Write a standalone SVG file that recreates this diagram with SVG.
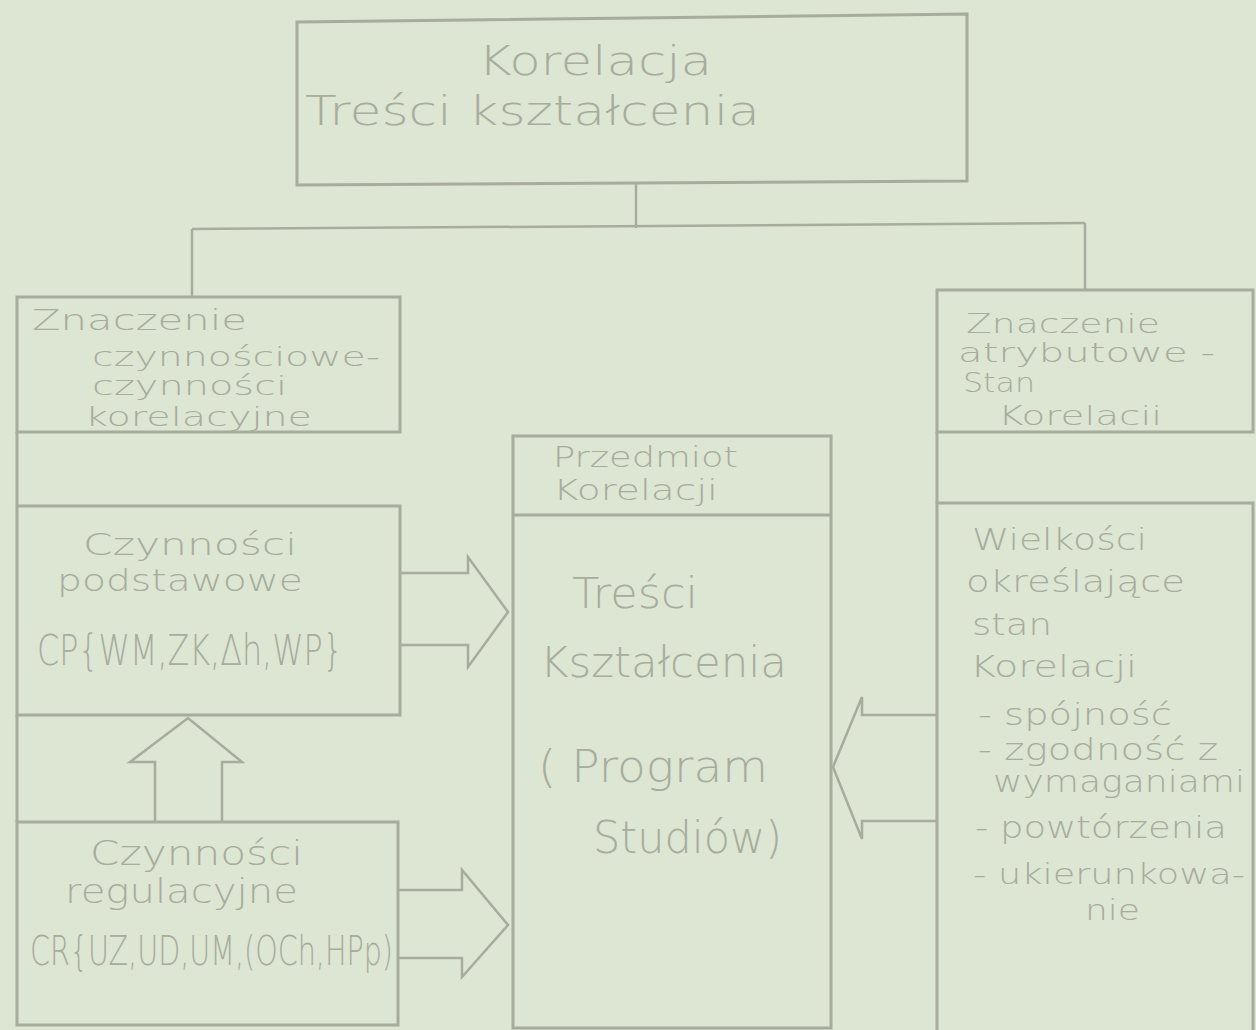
<svg xmlns="http://www.w3.org/2000/svg" width="1256" height="1030" viewBox="0 0 1256 1030">
<style>
.bg{fill:#dde5d3}
.box{fill:none;stroke:#a7ac9d;stroke-width:3}
.ln{fill:none;stroke:#a7ac9d;stroke-width:2.5}
.ar{fill:none;stroke:#a7ac9d;stroke-width:2.5;stroke-linejoin:miter}
.t{font-family:'DejaVu Sans','Liberation Sans',sans-serif;font-weight:300;fill:#a7ac9d}
</style>
<rect class="bg" x="0" y="0" width="1256" height="1030"/>
<g id="connectors">
<line class="ln" x1="636" y1="183" x2="636" y2="228"/>
<line class="ln" x1="192" y1="229" x2="1085" y2="223"/>
<line class="ln" x1="192" y1="229" x2="192" y2="296"/>
<line class="ln" x1="1085" y1="223" x2="1085" y2="290"/>
<line class="box" x1="17" y1="432" x2="17" y2="505"/>
<line class="box" x1="17" y1="715" x2="17" y2="822"/>
<line class="box" x1="937" y1="432" x2="937" y2="503"/>
<polyline class="ar" points="400,573 468,573 468,557 508,612 468,667 468,645 400,645"/>
<polyline class="ar" points="398,890 462,890 462,870 508,925 462,977 462,958 398,958"/>
<polyline class="ar" points="155,822 155,762 130,762 188,718 242,762 222,762 222,822"/>
<polyline class="ar" points="937,715 862,715 862,697 833,767 862,839 862,821 937,821"/>
</g>
<g id="top">
<polygon class="box" points="297,22 967,14 967,181 297,185"/>
<text class="t" x="478" y="75" font-size="40" textLength="234" lengthAdjust="spacingAndGlyphs">Korelacja</text>
<text class="t" x="305" y="125" font-size="40" textLength="455" lengthAdjust="spacingAndGlyphs">Treści kształcenia</text>
</g>
<g id="znaczenie-czynnosciowe">
<rect class="box" x="17" y="297" width="383" height="135"/>
<text class="t" x="32" y="330" font-size="28" textLength="215" lengthAdjust="spacingAndGlyphs">Znaczenie</text>
<text class="t" x="92" y="366" font-size="27" textLength="288" lengthAdjust="spacingAndGlyphs">czynnościowe-</text>
<text class="t" x="92" y="395" font-size="27" textLength="195" lengthAdjust="spacingAndGlyphs">czynności</text>
<text class="t" x="85" y="426" font-size="27" textLength="227" lengthAdjust="spacingAndGlyphs">korelacyjne</text>
</g>
<g id="czynnosci-podstawowe">
<rect class="box" x="17" y="506" width="383" height="209"/>
<text class="t" x="83" y="555" font-size="31" textLength="214" lengthAdjust="spacingAndGlyphs">Czynności</text>
<text class="t" x="57" y="591" font-size="31" textLength="246" lengthAdjust="spacingAndGlyphs">podstawowe</text>
<text class="t" x="37" y="665" font-size="42" textLength="306" lengthAdjust="spacingAndGlyphs">CP{WM,ZK,Δh,WP}</text>
</g>
<g id="czynnosci-regulacyjne">
<rect class="box" x="17" y="822" width="381" height="203"/>
<text class="t" x="90" y="865" font-size="33" textLength="213" lengthAdjust="spacingAndGlyphs">Czynności</text>
<text class="t" x="65" y="903" font-size="33" textLength="233" lengthAdjust="spacingAndGlyphs">regulacyjne</text>
<text class="t" x="30" y="965" font-size="40" textLength="363" lengthAdjust="spacingAndGlyphs">CR{UZ,UD,UM,(OCh,HPp)</text>
</g>
<g id="przedmiot-korelacji">
<rect class="box" x="513" y="436" width="318" height="592"/>
<line class="box" x1="513" y1="515" x2="831" y2="515"/>
<text class="t" x="553" y="467" font-size="28" textLength="185" lengthAdjust="spacingAndGlyphs">Przedmiot</text>
<text class="t" x="553" y="500" font-size="28" textLength="165" lengthAdjust="spacingAndGlyphs">Korelacji</text>
<text class="t" x="572" y="608" font-size="42" textLength="126" lengthAdjust="spacingAndGlyphs">Treści</text>
<text class="t" x="540" y="677" font-size="42" textLength="247" lengthAdjust="spacingAndGlyphs">Kształcenia</text>
<text class="t" x="538" y="782" font-size="44" textLength="230" lengthAdjust="spacingAndGlyphs">( Program</text>
<text class="t" x="593" y="853" font-size="44" textLength="189" lengthAdjust="spacingAndGlyphs">Studiów)</text>
</g>
<g id="znaczenie-atrybutowe">
<rect class="box" x="937" y="290" width="316" height="142"/>
<text class="t" x="966" y="333" font-size="27" textLength="194" lengthAdjust="spacingAndGlyphs">Znaczenie</text>
<text class="t" x="958" y="362" font-size="27" textLength="257" lengthAdjust="spacingAndGlyphs">atrybutowe -</text>
<text class="t" x="963" y="392" font-size="27" textLength="72" lengthAdjust="spacingAndGlyphs">Stan</text>
<text class="t" x="998" y="425" font-size="27" textLength="164" lengthAdjust="spacingAndGlyphs">Korelacii</text>
</g>
<g id="wielkosci">
<rect class="box" x="937" y="503" width="316" height="540"/>
<text class="t" x="972" y="550" font-size="31" textLength="175" lengthAdjust="spacingAndGlyphs">Wielkości</text>
<text class="t" x="966" y="592" font-size="31" textLength="219" lengthAdjust="spacingAndGlyphs">określające</text>
<text class="t" x="972" y="635" font-size="31" textLength="80" lengthAdjust="spacingAndGlyphs">stan</text>
<text class="t" x="970" y="677" font-size="31" textLength="167" lengthAdjust="spacingAndGlyphs">Korelacji</text>
<text class="t" x="978" y="725" font-size="30" textLength="194" lengthAdjust="spacingAndGlyphs">- spójność</text>
<text class="t" x="978" y="760" font-size="30" textLength="240" lengthAdjust="spacingAndGlyphs">- zgodność z</text>
<text class="t" x="993" y="792" font-size="30" textLength="252" lengthAdjust="spacingAndGlyphs">wymaganiami</text>
<text class="t" x="975" y="838" font-size="30" textLength="252" lengthAdjust="spacingAndGlyphs">- powtórzenia</text>
<text class="t" x="973" y="884" font-size="29" textLength="272" lengthAdjust="spacingAndGlyphs">- ukierunkowa-</text>
<text class="t" x="1085" y="920" font-size="28" textLength="55" lengthAdjust="spacingAndGlyphs">nie</text>
</g>
</svg>
